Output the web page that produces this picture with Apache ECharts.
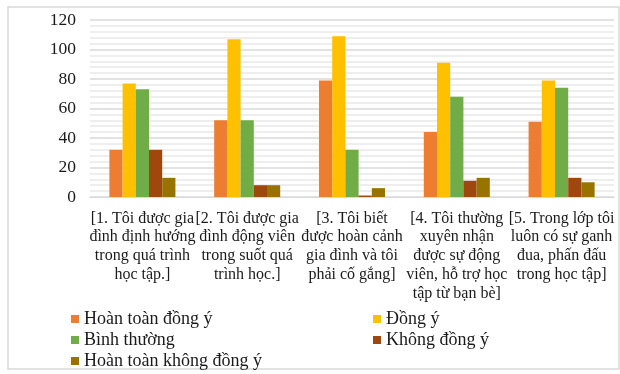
<!DOCTYPE html>
<html>
<head>
<meta charset="utf-8">
<script src="https://cdn.jsdelivr.net/npm/echarts@6/dist/echarts.min.js"></script>
<style>
  html, body { margin: 0; padding: 0; background: #fff; }
  #chart { width: 620px; height: 374px; }
</style>
</head>
<body>
<div id="chart"></div>
<script>
// Survey statements (category axis) with their wrapped labels
const categories = [
  '[1. Tôi được gia\nđình định hướng\ntrong quá trình\nhọc tập.]',
  '[2. Tôi được gia\nđình động viên\ntrong suốt quá\ntrình học.]',
  '[3. Tôi biết\nđược hoàn cảnh\ngia đình và tôi\nphải cố gắng]',
  '[4. Tôi thường\nxuyên nhận\nđược sự động\nviên, hỗ trợ học\ntập từ bạn bè]',
  '[5. Trong lớp tôi\nluôn có sự ganh\nđua, phấn đấu\ntrong học tập]'
];

// Response counts per answer option
const hoanToanDongY = [32, 52, 79, 44, 51];
const dongY = [77, 107, 109, 91, 79];
const binhThuong = [73, 52, 32, 68, 74];
const khongDongY = [32, 8, 1, 11, 13];
const hoanToanKhongDongY = [13, 8, 6, 13, 10];

const seriesNames = ['Hoàn toàn đồng ý', 'Đồng ý', 'Bình thường', 'Không đồng ý', 'Hoàn toàn không đồng ý'];
const seriesData = [hoanToanDongY, dongY, binhThuong, khongDongY, hoanToanKhongDongY];
const seriesColors = ['#ED7D31', '#FFC000', '#70AD47', '#9E480E', '#997300'];

// Y axis ticks
const yMin = 0, yMax = 120, yStep = 20;

const FONT = '"Liberation Serif", "Times New Roman", serif';
const TEXT = '#1a1a1a';

// Two-column legend layout: [left, top] for each entry
const legendSlots = [[71, 310], [373, 310], [71, 331], [373, 331], [71, 352]];

const chart = echarts.init(document.getElementById('chart'));
chart.setOption({
  animation: false,
  backgroundColor: '#fff',
  graphic: [{
    type: 'rect',
    shape: { x: 8, y: 7, width: 611, height: 362 },
    style: { fill: 'none', stroke: '#d9d9d9', lineWidth: 1.5 },
    silent: true
  }],
  grid: { left: 90, right: 6, top: 20, bottom: 177, containLabel: false },
  legend: seriesNames.map((name, i) => ({
    data: [name],
    left: legendSlots[i][0],
    top: legendSlots[i][1],
    padding: 0,
    itemWidth: 8,
    itemHeight: 8,
    icon: 'rect',
    selectedMode: false,
    textStyle: { fontFamily: FONT, fontSize: 18, color: TEXT }
  })),
  xAxis: {
    type: 'category',
    data: categories,
    axisLine: { show: true, lineStyle: { color: '#d9d9d9', width: 1 } },
    axisTick: { show: false },
    axisLabel: {
      interval: 0,
      margin: 12,
      fontFamily: FONT,
      fontSize: 16,
      lineHeight: 18.8,
      color: TEXT,
      align: 'center'
    }
  },
  yAxis: {
    type: 'value',
    min: yMin,
    max: yMax,
    interval: yStep,
    axisLine: { show: false },
    axisTick: { show: false },
    axisLabel: { fontFamily: FONT, fontSize: 17.5, color: TEXT, margin: 14 },
    splitLine: { show: true, lineStyle: { color: '#d9d9d9', width: 1.5 } },
    minorTick: { show: false, splitNumber: 5 },
    minorSplitLine: { show: true, lineStyle: { color: '#e9e9e9', width: 1.5 } }
  },
  series: seriesNames.map((name, i) => ({
    name: name,
    type: 'bar',
    data: seriesData[i],
    barGap: '0%',
    barCategoryGap: '37%',
    itemStyle: { color: seriesColors[i] }
  }))
});
</script>
</body>
</html>
